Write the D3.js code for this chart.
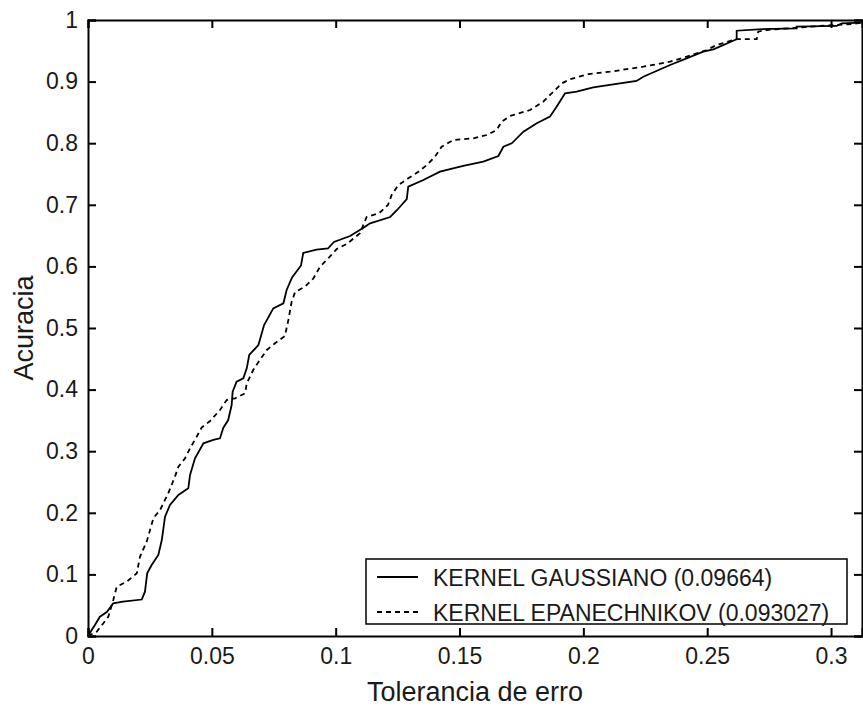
<!DOCTYPE html>
<html>
<head>
<meta charset="utf-8">
<script src="https://cdnjs.cloudflare.com/ajax/libs/d3/7.8.5/d3.min.js"></script>
<style>
  body { margin: 0; background: #fff; }
  svg text { font-family: "Liberation Sans", Arial, sans-serif; fill: #1a1a1a; }
</style>
</head>
<body>
<script>
// Chart Params
var svgWidth = 863;
var svgHeight = 707;
var margin = { top: 20, right: 1, bottom: 71, left: 88 };
var width = svgWidth - margin.left - margin.right;
var height = svgHeight - margin.top - margin.bottom;

// data
var gaussX = [0, 0.0015, 0.0028, 0.0048, 0.0076, 0.0102, 0.0141, 0.0217, 0.0230, 0.0239, 0.0257, 0.0284, 0.0298, 0.0311, 0.0331, 0.0365, 0.0405, 0.0412, 0.0432, 0.0466, 0.0506, 0.0533, 0.0546, 0.0566, 0.0580, 0.0584, 0.0600, 0.0627, 0.0641, 0.0651, 0.0688, 0.0711, 0.0748, 0.0789, 0.0802, 0.0824, 0.0860, 0.0869, 0.0923, 0.0969, 0.0993, 0.1058, 0.1114, 0.1139, 0.1220, 0.1248, 0.1287, 0.1293, 0.1354, 0.1421, 0.1515, 0.1596, 0.1657, 0.1677, 0.1711, 0.1758, 0.1812, 0.1865, 0.1892, 0.1926, 0.1973, 0.2040, 0.2215, 0.2242, 0.2350, 0.2417, 0.2484, 0.2525, 0.2619, 0.2619, 0.2706, 0.2861, 0.2861, 0.3023, 0.3043, 0.3124];
var gaussY = [0, 0.0097, 0.0179, 0.0313, 0.0390, 0.0531, 0.0557, 0.0592, 0.0719, 0.1018, 0.1153, 0.1315, 0.1558, 0.1937, 0.2127, 0.2289, 0.2398, 0.2614, 0.2885, 0.3128, 0.3182, 0.3209, 0.3377, 0.3506, 0.3750, 0.3966, 0.4128, 0.4183, 0.4345, 0.4562, 0.4724, 0.5049, 0.5319, 0.5401, 0.5617, 0.5821, 0.6015, 0.6218, 0.6274, 0.6294, 0.6396, 0.6494, 0.6632, 0.6700, 0.6802, 0.6916, 0.7094, 0.7294, 0.7403, 0.7537, 0.7630, 0.7700, 0.7792, 0.7943, 0.7998, 0.8187, 0.8323, 0.8431, 0.8593, 0.8810, 0.8836, 0.8907, 0.9010, 0.9080, 0.9269, 0.9378, 0.9485, 0.9524, 0.9687, 0.9826, 0.9849, 0.9865, 0.9891, 0.9903, 0.9946, 0.9956];

var epanX = [0, 0.0035, 0.0062, 0.0082, 0.0102, 0.0116, 0.0156, 0.0197, 0.0210, 0.0237, 0.0264, 0.0291, 0.0324, 0.0351, 0.0365, 0.0392, 0.0412, 0.0439, 0.0459, 0.0493, 0.0533, 0.0560, 0.0594, 0.0634, 0.0641, 0.0667, 0.0694, 0.0722, 0.0755, 0.0795, 0.0809, 0.0822, 0.0836, 0.0876, 0.0910, 0.0937, 0.0970, 0.1004, 0.1045, 0.1098, 0.1125, 0.1175, 0.1211, 0.1226, 0.1253, 0.1293, 0.1334, 0.1368, 0.1401, 0.1428, 0.1475, 0.1556, 0.1610, 0.1650, 0.1670, 0.1704, 0.1785, 0.1838, 0.1872, 0.1913, 0.1946, 0.2020, 0.2108, 0.2242, 0.2350, 0.2417, 0.2498, 0.2538, 0.2619, 0.2700, 0.2706, 0.2740, 0.2956, 0.3023, 0.3090, 0.3124];
var epanY = [0, 0.0070, 0.0206, 0.0313, 0.0584, 0.0800, 0.0881, 0.1018, 0.1289, 0.1532, 0.1912, 0.2045, 0.2316, 0.2586, 0.2748, 0.2885, 0.3047, 0.3236, 0.3385, 0.3490, 0.3669, 0.3831, 0.3859, 0.3940, 0.4102, 0.4318, 0.4481, 0.4643, 0.4752, 0.4870, 0.5130, 0.5422, 0.5584, 0.5670, 0.5806, 0.5995, 0.6131, 0.6282, 0.6364, 0.6537, 0.6802, 0.6862, 0.6997, 0.7159, 0.7321, 0.7430, 0.7537, 0.7646, 0.7781, 0.7943, 0.8052, 0.8080, 0.8133, 0.8214, 0.8349, 0.8442, 0.8539, 0.8674, 0.8810, 0.8972, 0.9037, 0.9123, 0.9161, 0.9242, 0.9323, 0.9404, 0.9513, 0.9594, 0.9690, 0.9690, 0.9811, 0.9838, 0.9903, 0.9919, 0.9935, 0.9956];

var seriesNames = ["KERNEL GAUSSIANO (0.09664)", "KERNEL EPANECHNIKOV (0.093027)"];
var xTicks = [0, 0.05, 0.1, 0.15, 0.2, 0.25, 0.3];
var yTicks = [0, 0.1, 0.2, 0.3, 0.4, 0.5, 0.6, 0.7, 0.8, 0.9, 1];

var svg = d3.select("body")
  .append("svg")
  .attr("width", svgWidth)
  .attr("height", svgHeight);

var chartGroup = svg.append("g")
  .attr("transform", `translate(${margin.left}, ${margin.top})`);

// scales
var xScale = d3.scaleLinear().domain([0, 0.3125]).range([0, width]);
var yScale = d3.scaleLinear().domain([0, 1]).range([height, 0]);

var fmt = d => d3.format("")(+d.toFixed(2));

// axes, ticks pointing inward like matlab
var bottomAxis = d3.axisBottom(xScale).tickValues(xTicks).tickSize(-8).tickPadding(12).tickFormat(fmt);
var topAxis = d3.axisTop(xScale).tickValues(xTicks).tickSize(-8).tickFormat("");
var leftAxis = d3.axisLeft(yScale).tickValues(yTicks).tickSize(-8).tickPadding(10).tickFormat(fmt);
var rightAxis = d3.axisRight(yScale).tickValues(yTicks).tickSize(-8).tickFormat("");

function styleAxis(g) {
  g.select(".domain").attr("stroke", "#000").attr("stroke-width", 2);
  g.selectAll(".tick line").attr("stroke", "#000").attr("stroke-width", 2);
  g.selectAll(".tick text").style("font-size", "23px").attr("fill", "#1a1a1a");
}

chartGroup.append("g").attr("transform", `translate(0, ${height})`).call(bottomAxis).call(styleAxis);
chartGroup.append("g").call(topAxis).call(styleAxis);
chartGroup.append("g").call(leftAxis).call(styleAxis);
chartGroup.append("g").attr("transform", `translate(${width}, 0)`).call(rightAxis).call(styleAxis);

// lines
var lineGen = d3.line().x(d => xScale(d[0])).y(d => yScale(d[1]));
var gaussData = gaussX.map((x, i) => [x, gaussY[i]]);
var epanData = epanX.map((x, i) => [x, epanY[i]]);

chartGroup.append("path")
  .datum(gaussData)
  .attr("d", lineGen)
  .attr("fill", "none")
  .attr("stroke", "#000")
  .attr("stroke-width", 1.8);

chartGroup.append("path")
  .datum(epanData)
  .attr("d", lineGen)
  .attr("fill", "none")
  .attr("stroke", "#000")
  .attr("stroke-width", 1.8)
  .attr("stroke-dasharray", "5,4");

// axis titles
chartGroup.append("text")
  .attr("text-anchor", "middle")
  .attr("x", 475 - margin.left)
  .attr("y", 701 - margin.top)
  .style("font-size", "27px")
  .text("Tolerancia de erro");

chartGroup.append("text")
  .attr("text-anchor", "middle")
  .attr("transform", `translate(${33 - margin.left}, ${328 - margin.top})rotate(-90)`)
  .style("font-size", "27px")
  .text("Acuracia");

// legend
var legend = svg.append("g").attr("transform", "translate(366, 559)");
legend.append("rect")
  .attr("width", 481)
  .attr("height", 65)
  .attr("fill", "#fff")
  .attr("stroke", "#000")
  .attr("stroke-width", 1.5);

seriesNames.forEach(function(name, i) {
  var yy = 18 + i * 35;
  legend.append("line")
    .attr("x1", 11).attr("x2", 52)
    .attr("y1", yy).attr("y2", yy)
    .attr("stroke", "#000")
    .attr("stroke-width", 1.8)
    .attr("stroke-dasharray", i == 1 ? "5,4" : null);
  legend.append("text")
    .attr("x", 67)
    .attr("y", yy + 9)
    .style("font-size", "23px")
    .text(name);
});
</script>
</body>
</html>
